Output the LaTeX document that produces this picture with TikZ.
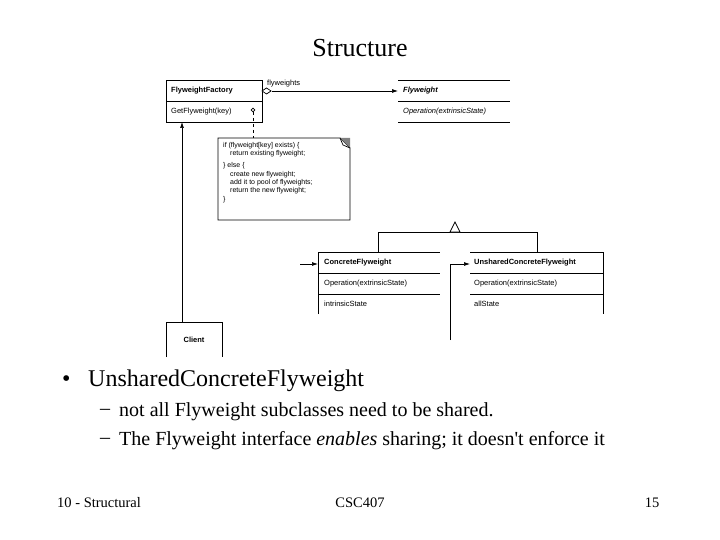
\documentclass[tikz,border=0pt]{standalone}
\usepackage{fontspec}
\setmainfont{Liberation Serif}
\newfontfamily\uml{Liberation Sans}
\usetikzlibrary{arrows.meta}
\begin{document}
\begin{tikzpicture}[x=1pt,y=-1pt,
  ln/.style={line width=0.7pt},
  lab/.style={font=\uml\fontsize{7.5}{9}\selectfont,anchor=west,inner sep=0pt},
  blab/.style={lab,font=\uml\bfseries\fontsize{7.5}{9}\selectfont},
  tx/.style={anchor=west,inner sep=0pt},
  fill arrow/.style={-{Latex[length=6pt,width=4pt]}}]
\useasboundingbox (0,0) rectangle (720,540);
\node[inner sep=0pt,font=\fontsize{26}{30}\selectfont] (title) at (360,48) {Structure};
% Factory
\draw[ln] (166,80) rectangle (262,122);
\draw[ln] (166,101) -- (262,101);
\node[blab] (ff) at (171,91) {FlyweightFactory};
\node[lab] (gf) at (171,112) {GetFlyweight(key)};
% Flyweight
\draw[ln] (398,80) -- (510,80) (398,101) -- (510,101) (398,122) -- (510,122);
\node[blab,font=\uml\bfseries\itshape\fontsize{7.5}{9}\selectfont] (fw) at (403,91) {Flyweight};
\node[lab,font=\uml\itshape\fontsize{7.5}{9}\selectfont] (op) at (403,112) {Operation(extrinsicState)};
\coordinate (fl) at (398,91);
\coordinate (fr) at (262,91);
\draw[ln,fill arrow] (272,91) -- (fl);
\draw[ln,fill=white] (fr) -- (266.5,88) -- (271,91) -- (266.5,94) -- cycle;
\node[lab] (flw) at (267,84) {flyweights};
% note
\draw[ln] (218,138) -- (340,138) -- (350,148) -- (350,220) -- (218,220) -- cycle;
\fill[gray] (340,138) -- (350,138) -- (350,148) -- cycle;
\draw[ln] (340,138) -- (343,145) -- (350,148);
\draw[ln] (253,110) circle (1.8);
\draw[ln,dashed] (253,112) -- (253,138);
\node[lab,font=\uml\fontsize{7}{8.3}\selectfont,align=left,anchor=north west] (code) at (223,142)
{if (flyweight[key] exists) \{\\\quad return existing flyweight;\\[4pt]\} else \{\\\quad create new flyweight;\\\quad add it to pool of flyweights;\\\quad return the new flyweight;\\\}};
% generalization
\draw[ln] (378,252) -- (378,232) -- (537,232) -- (537,252);
\draw[ln,fill=white] (455,222) -- (450,232) -- (460,232) -- cycle;
% Concrete
\draw[ln] (318,314) -- (318,252) -- (440,252) (318,273) -- (440,273) (318,294) -- (440,294);
\node[blab] (cf) at (324,263) {ConcreteFlyweight};
\node[lab] (cop) at (324,284) {Operation(extrinsicState)};
\node[lab] (cis) at (324,304) {intrinsicState};
\coordinate (cin) at (300,264);
\draw[ln,fill arrow] (cin) -- (318,264);
% Unshared
\draw[ln] (470,252) -- (603,252) -- (603,314) (470,273) -- (603,273) (470,294) -- (603,294);
\node[blab] (uf) at (474,263) {UnsharedConcreteFlyweight};
\node[lab] (uop) at (474,284) {Operation(extrinsicState)};
\node[lab] (uas) at (474,304) {allState};
\coordinate (uin) at (450,340);
\draw[ln,fill arrow] (uin) -- (450,264) -- (470,264);
% Client
\draw[ln] (166,357) -- (166,322) -- (222,322) -- (222,357);
\node[blab,anchor=center] (cl) at (194,340) {Client};
\draw[ln,fill arrow] (182,322) -- (182,122);
% text
\node[tx,font=\fontsize{24}{28}\selectfont] (bb) at (62,381) {\textbullet};
\node[tx,font=\fontsize{24}{28}\selectfont] (b1) at (88,381) {UnsharedConcreteFlyweight};
\node[tx,font=\fontsize{20}{23}\selectfont] (d2) at (100,412) {–};
\node[tx,font=\fontsize{20}{23}\selectfont] (b2) at (119,412) {not all Flyweight subclasses need to be shared.};
\node[tx,font=\fontsize{20}{23}\selectfont] (d3) at (100,441) {–};
\node[tx,font=\fontsize{20}{23}\selectfont] (b3) at (119,441) {The Flyweight interface \textit{enables} sharing; it doesn\textquotesingle t enforce it};
\node[tx,font=\fontsize{14.5}{17}\selectfont] (f1) at (57,503) {10 - Structural};
\node[inner sep=0pt,font=\fontsize{14.5}{17}\selectfont] (f2) at (360,503) {CSC407};
\node[inner sep=0pt,font=\fontsize{14.5}{17}\selectfont] (f3) at (652,503) {15};
\end{tikzpicture}
\end{document}
